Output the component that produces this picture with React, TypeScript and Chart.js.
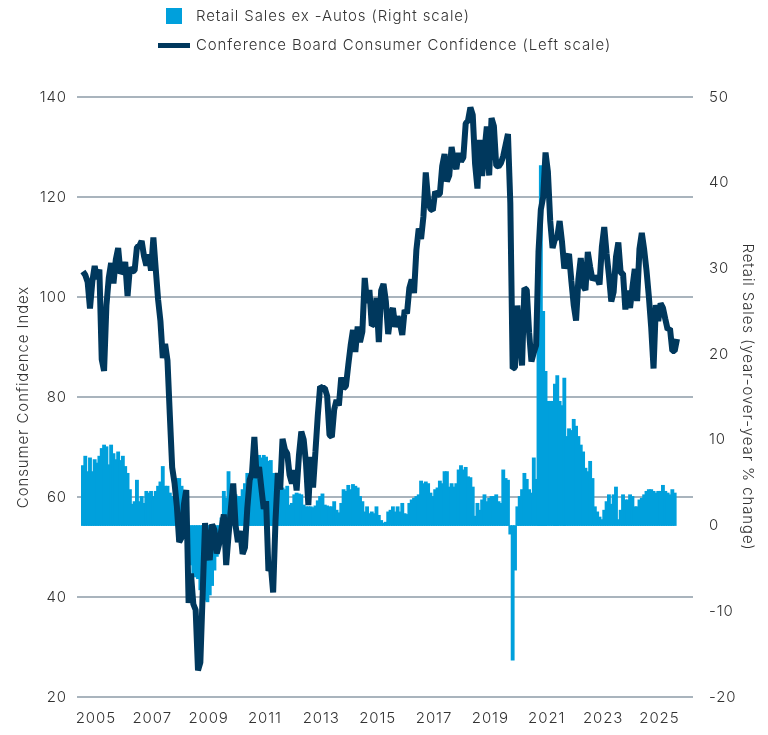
import React, { useEffect, useRef } from "react";
import { Chart, registerables } from "chart.js";

Chart.register(...registerables);

// Monthly data, Jan 2005 onward
const startYear = 2005;
const tickYears = [2005, 2007, 2009, 2011, 2013, 2015, 2017, 2019, 2021, 2023, 2025];

// Conference Board Consumer Confidence (left scale), Jan 2005 - Feb 2026
const cciValues = [
  105.1, 104.4, 103.0, 97.7, 103.1, 106.2, 103.6, 105.5, 87.5, 85.2, 98.3, 103.8,
  106.8, 102.7, 107.5, 109.8, 104.7, 105.4, 107.0, 100.2, 105.9, 105.1, 105.3, 110.0,
  110.2, 111.2, 108.2, 106.3, 108.5, 105.3, 111.9, 105.6, 99.5, 95.2, 87.8, 90.6,
  87.3, 76.4, 65.9, 62.8, 58.1, 51.0, 51.9, 58.5, 61.4, 38.8, 44.7, 38.6,
  37.4, 25.3, 26.9, 40.8, 54.8, 49.3, 47.4, 54.5, 53.4, 48.7, 50.6, 53.6,
  56.5, 46.4, 52.3, 57.7, 62.7, 54.3, 51.0, 53.2, 48.6, 49.9, 57.8, 63.4,
  64.8, 72.0, 63.8, 66.0, 61.7, 57.6, 59.2, 45.2, 46.4, 40.9, 55.2, 64.8,
  61.5, 71.6, 69.5, 68.7, 64.4, 62.7, 65.4, 61.3, 68.4, 73.1, 71.5, 66.7,
  58.4, 68.0, 61.9, 69.0, 76.2, 82.1, 81.8, 81.8, 80.2, 72.4, 72.0, 77.5,
  79.4, 78.3, 83.9, 81.7, 82.2, 86.4, 90.3, 93.4, 89.0, 94.1, 91.0, 93.1,
  103.8, 98.8, 101.4, 94.3, 94.6, 99.8, 91.0, 101.3, 102.6, 99.1, 92.6, 96.3,
  97.8, 94.0, 96.1, 94.7, 92.4, 97.4, 96.7, 101.8, 103.5, 100.8, 109.4, 113.7,
  111.6, 116.1, 124.9, 119.4, 117.6, 117.3, 121.1, 120.4, 120.6, 126.2, 128.6, 123.1,
  124.3, 130.0, 127.0, 125.6, 128.8, 127.1, 127.9, 134.7, 135.3, 137.9, 136.4, 126.6,
  121.7, 131.4, 124.2, 129.2, 134.1, 124.3, 135.8, 134.2, 126.3, 126.1, 126.8, 128.2,
  130.4, 132.6, 118.8, 85.7, 85.9, 98.3, 91.7, 86.3, 101.8, 101.4, 92.9, 87.1,
  88.9, 90.4, 109.0, 117.5, 120.0, 128.9, 125.1, 115.2, 109.8, 111.6, 111.9, 115.2,
  111.1, 105.7, 107.6, 108.6, 103.2, 98.4, 95.3, 103.6, 107.8, 102.2, 101.4, 109.0,
  106.0, 103.4, 104.0, 103.7, 102.5, 110.1, 114.0, 108.7, 104.3, 99.1, 101.0, 108.0,
  110.9, 104.8, 104.7, 97.5, 101.3, 97.8, 101.9, 105.6, 99.2, 109.6, 112.8, 109.5,
  105.3, 100.1, 93.9, 85.7, 98.4, 95.2, 98.7, 97.8, 95.6, 93.5, 93.7, 89.2,
  89.2, 91.6,
];

// Retail Sales ex-Autos, year-over-year % change (right scale), Jan 2005 - Jan 2026
const retailValues = [
  7.0, 8.1, 6.3, 7.9, 6.3, 7.7, 7.3, 8.1, 9.0, 9.4, 9.2, 7.1,
  9.4, 8.4, 7.7, 8.6, 7.6, 8.1, 6.9, 6.1, 4.2, 2.5, 2.8, 5.3,
  2.8, 3.4, 2.6, 4.0, 3.8, 4.0, 3.4, 4.0, 4.6, 5.1, 6.9, 4.6,
  4.6, 3.8, 3.4, 3.4, 5.5, 5.5, 4.6, 3.8, 2.2, -1.5, -4.6, -5.6,
  -6.0, -6.2, -7.5, -8.4, -8.7, -8.9, -8.1, -7.0, -5.2, -3.6, -1.5, 0.9,
  4.0, 3.2, 6.3, 4.8, 3.6, 3.6, 3.4, 3.4, 4.2, 4.9, 6.1, 5.7,
  6.9, 7.5, 8.1, 8.2, 7.9, 8.2, 8.0, 7.5, 7.6, 6.1, 5.3, 5.7,
  5.0, 4.4, 4.2, 4.6, 2.4, 2.6, 3.6, 3.8, 3.7, 3.6, 2.4, 2.2,
  2.2, 2.2, 2.1, 2.3, 2.9, 3.4, 3.7, 2.4, 2.3, 2.2, 2.2, 2.8,
  1.8, 1.5, 2.6, 4.2, 4.0, 4.7, 4.2, 4.8, 4.6, 4.4, 3.4, 2.8,
  1.6, 2.2, 1.4, 1.6, 1.4, 2.2, 1.2, 0.6, 0.3, 0.4, 1.6, 1.8,
  2.2, 1.6, 2.2, 1.6, 2.6, 1.4, 1.3, 2.6, 3.0, 3.2, 3.4, 3.6,
  5.2, 4.9, 5.1, 4.9, 3.8, 3.4, 4.2, 4.4, 5.2, 4.9, 6.3, 6.3,
  4.5, 4.9, 4.5, 4.9, 6.5, 7.0, 6.5, 6.8, 5.7, 5.6, 4.5, 1.1,
  2.6, 1.8, 3.0, 3.6, 2.8, 3.2, 3.4, 3.4, 3.6, 2.8, 2.6, 6.5,
  5.5, 5.3, -1.0, -15.7, -5.2, 2.2, 3.4, 4.2, 6.1, 5.4, 4.2, 3.8,
  7.9, 5.4, 22.0, 42.0, 25.0, 18.0, 14.5, 14.5, 14.5, 16.5, 17.5, 14.5,
  14.0, 17.2, 10.4, 11.3, 11.1, 12.4, 11.6, 10.4, 9.4, 8.6, 6.7, 6.3,
  7.5, 5.5, 2.2, 1.6, 1.0, 0.7, 1.8, 2.8, 3.6, 2.5, 3.6, 4.5,
  0.7, 1.8, 3.6, 3.0, 3.0, 3.6, 3.4, 2.2, 2.2, 3.0, 3.2, 3.6,
  4.0, 4.2, 4.2, 4.0, 3.8, 4.0, 4.0, 4.7, 4.0, 3.8, 3.6, 4.2,
  3.8,
];

const leftTitle = "Consumer Confidence Index";
const rightTitle = "Retail Sales (year-over-year % change)";
const barLabel = "Retail Sales ex -Autos (Right scale)";
const lineLabel = "Conference Board Consumer Confidence (Left scale)";

const NAVY = "#00385d";
const BLUE = "#00a0dc";
const GRID = "#a9b4bd";
const TEXT = "#333333";
const FONT = "Inter";
const SPACING = "0.9px";

export default function App() {
  const canvasRef = useRef<HTMLCanvasElement | null>(null);

  useEffect(() => {
    const canvas = canvasRef.current;
    if (!canvas) return;

    const decorPlugin = {
      id: "decor",
      beforeDraw(chart: any) {
        (chart.ctx as any).letterSpacing = SPACING;
      },
      afterDraw(chart: any) {
        const ctx = chart.ctx;
        const area = chart.chartArea;
        ctx.save();
        (ctx as any).letterSpacing = SPACING;
        ctx.font = `300 15px ${FONT}`;
        ctx.textBaseline = "middle";
        ctx.textAlign = "left";
        // legend
        ctx.fillStyle = BLUE;
        ctx.fillRect(166, 8, 16, 16);
        ctx.fillStyle = TEXT;
        ctx.fillText(barLabel, 196, 16);
        ctx.fillStyle = NAVY;
        ctx.fillRect(158, 43, 32, 5);
        ctx.fillStyle = TEXT;
        ctx.fillText(lineLabel, 196, 45);
        // axis titles
        const cy = (area.top + area.bottom) / 2;
        ctx.textAlign = "center";
        ctx.save();
        ctx.translate(23, cy);
        ctx.rotate(-Math.PI / 2);
        ctx.fillText(leftTitle, 0, 0);
        ctx.restore();
        ctx.save();
        ctx.translate(748, cy);
        ctx.rotate(Math.PI / 2);
        ctx.fillText(rightTitle, 0, 0);
        ctx.restore();
        ctx.restore();
      },
    };

    const tickFont = { family: FONT, size: 15, weight: 300 as any };

    const chart = new Chart(canvas, {
      type: "bar",
      data: {
        datasets: [
          {
            type: "line",
            label: lineLabel,
            data: cciValues.map((v, i) => ({ x: i, y: v })),
            borderColor: NAVY,
            backgroundColor: NAVY,
            borderWidth: 6,
            borderJoinStyle: "bevel",
            pointRadius: 0,
            tension: 0,
            yAxisID: "y",
            xAxisID: "x",
            order: 0,
          } as any,
          {
            type: "bar",
            label: barLabel,
            data: retailValues.map((v, i) => ({ x: i, y: v })),
            backgroundColor: BLUE,
            borderColor: BLUE,
            borderWidth: 0,
            barThickness: 3.2,
            yAxisID: "y1",
            xAxisID: "x",
            order: 1,
          } as any,
        ],
      },
      options: {
        responsive: false,
        animation: false,
        devicePixelRatio: 1,
        layout: { padding: { top: 97, left: 0, right: 0, bottom: 0 } },
        plugins: {
          legend: { display: false },
          tooltip: { enabled: false },
        },
        scales: {
          x: {
            type: "linear",
            min: -2.53,
            max: 259.8,
            offset: false,
            grid: { display: false, drawTicks: false },
            border: { display: false },
            afterFit(scale: any) {
              scale.height = 38;
            },
            afterBuildTicks(scale: any) {
              scale.ticks = tickYears.map((y) => ({ value: (y - startYear) * 12 + 5.5 }));
            },
            ticks: {
              autoSkip: false,
              maxRotation: 0,
              padding: 12,
              color: TEXT,
              font: tickFont,
              callback: (value: any) => String(Math.round(startYear + (Number(value) - 5.5) / 12)),
            },
          },
          y: {
            type: "linear",
            position: "left",
            min: 20,
            max: 140,
            grid: { color: GRID, lineWidth: 2, drawTicks: false },
            border: { display: false },
            afterFit(scale: any) {
              scale.width = 77;
            },
            ticks: {
              stepSize: 20,
              padding: 10,
              color: TEXT,
              font: tickFont,
            },
          },
          y1: {
            type: "linear",
            position: "right",
            min: -20,
            max: 50,
            grid: { display: false, drawTicks: false },
            border: { display: false },
            afterFit(scale: any) {
              scale.width = 75;
            },
            ticks: {
              stepSize: 10,
              padding: 16,
              color: TEXT,
              font: tickFont,
            },
          },
        },
      },
      plugins: [decorPlugin],
    });

    return () => {
      chart.destroy();
    };
  }, []);

  return (
    <div style={{ position: "fixed", left: 0, top: 0, width: 768, height: 735, background: "#fff" }}>
      <canvas ref={canvasRef} width={768} height={735} style={{ display: "block" }} />
    </div>
  );
}
